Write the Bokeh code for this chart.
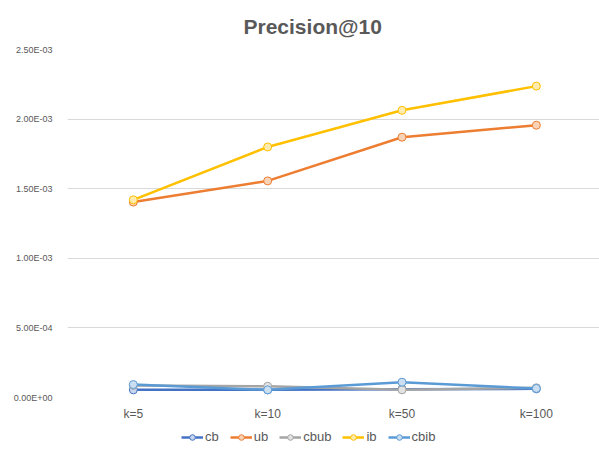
from bokeh.plotting import figure
from bokeh.layouts import column
from bokeh.models import Legend, LegendItem, FixedTicker, Range1d
from bokeh.embed import file_html
from bokeh.resources import INLINE

categories = ["k=5", "k=10", "k=50", "k=100"]
cb = [5.5e-5, 5.5e-5, 6.0e-5, 6.2e-5]
ub = [1.404e-3, 1.556e-3, 1.870e-3, 1.956e-3]
cbub = [8.6e-5, 8.1e-5, 5.5e-5, 7.0e-5]
ib = [1.420e-3, 1.800e-3, 2.063e-3, 2.237e-3]
cbib = [9.3e-5, 5.5e-5, 1.1e-4, 6.5e-5]
y_ticks = [0.0, 5e-4, 1e-3, 1.5e-3, 2e-3, 2.5e-3]
y_tick_labels = ["0.00E+00", "5.00E-04", "1.00E-03", "1.50E-03", "2.00E-03", "2.50E-03"]

series = [
    ("cb", cb, "#4472C4", "#C9D6EF"),
    ("ub", ub, "#ED7D31", "#F9D3B8"),
    ("cbub", cbub, "#A5A5A5", "#E2E2E2"),
    ("ib", ib, "#FFC000", "#FFEBAD"),
    ("cbib", cbib, "#5B9BD5", "#CCDFF1"),
]

xs = list(range(len(categories)))

p = figure(width=599, height=425, output_backend="svg", toolbar_location=None,
           x_range=Range1d(-0.49, 3.47), y_range=Range1d(0, 2.5e-3),
           min_border_left=67, min_border_right=0, min_border_top=48, min_border_bottom=28)
p.title.text = "Precision@10"
p.title.align = "left"
p.title.offset = 176
p.title.standoff = 24
p.title.text_font = "Liberation Sans"
p.title.text_font_size = "21px"
p.title.text_font_style = "bold"
p.title.text_color = "#595959"
p.outline_line_color = None
p.background_fill_color = "white"
p.border_fill_color = "white"

p.xgrid.grid_line_color = None
p.ygrid.grid_line_color = "#D9D9D9"
p.ygrid.grid_line_width = 1

p.yaxis.ticker = FixedTicker(ticks=y_ticks)
p.yaxis.major_label_overrides = {t: l for t, l in zip(y_ticks, y_tick_labels)}
p.yaxis.axis_line_color = None
p.yaxis.major_tick_line_color = None
p.yaxis.minor_tick_line_color = None
p.yaxis.major_label_text_font = "Liberation Sans"
p.yaxis.major_label_text_font_size = "9px"
p.yaxis.major_label_text_color = "#595959"
p.yaxis.major_label_standoff = 9

p.xaxis.ticker = FixedTicker(ticks=xs)
p.xaxis.major_label_overrides = {i: c for i, c in enumerate(categories)}
p.xaxis.axis_line_color = None
p.xaxis.major_tick_line_color = None
p.xaxis.minor_tick_line_color = None
p.xaxis.major_label_text_font = "Liberation Sans"
p.xaxis.major_label_text_font_size = "12px"
p.xaxis.major_label_text_color = "#595959"
p.xaxis.major_label_standoff = 3

# legend figure (legend-only renderers hold no visible data)
lg = figure(width=599, height=28, output_backend="svg", toolbar_location=None,
            x_range=Range1d(0, 1), y_range=Range1d(0, 1),
            x_axis_location=None, y_axis_location=None,
            min_border_left=0, min_border_right=0, min_border_top=0, min_border_bottom=0)
lg.grid.grid_line_color = None
lg.outline_line_color = None
lg.border_fill_color = "white"

nan = float("nan")
items = []
for name, vals, col, fill in series:
    p.line(xs, vals, line_color=col, line_width=2.5)
    p.scatter(xs, vals, size=8, marker="circle", line_color=col, line_width=1,
              fill_color=fill)
    l1 = lg.line([nan], [nan], line_color=col, line_width=2.5)
    l2 = lg.scatter([nan], [nan], size=8, marker="circle", line_color=col, line_width=1,
                    fill_color=fill)
    items.append(LegendItem(label=name, renderers=[l1, l2]))

legend = Legend(items=items, orientation="horizontal", location=(114, 9),
                border_line_color=None, background_fill_alpha=0,
                label_text_font="Liberation Sans", label_text_font_size="13px",
                label_text_color="#595959", glyph_width=22, glyph_height=14,
                label_width=0, label_standoff=2, spacing=11, padding=2, margin=0)
lg.add_layout(legend, "center")

layout = column(p, lg, spacing=0)
open("out.html", "w").write(file_html(layout, INLINE))
